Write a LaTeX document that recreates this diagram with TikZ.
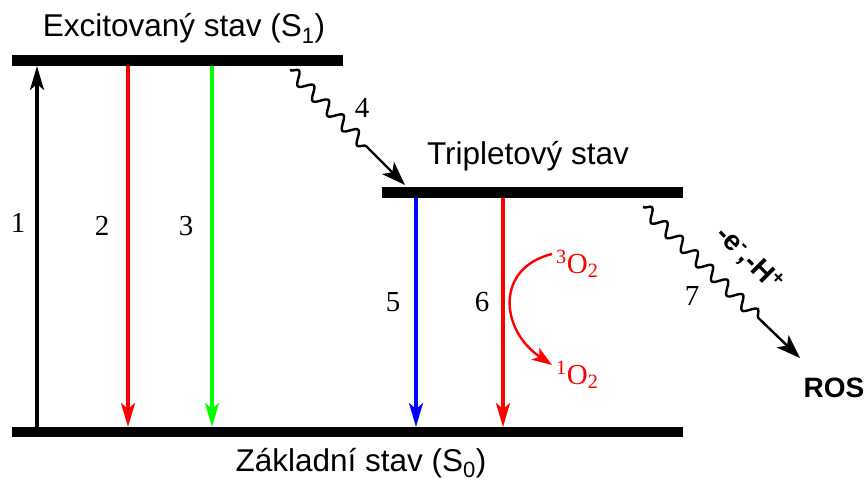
\documentclass[tikz,border=0pt]{standalone}
\usepackage{fontspec}
\setmainfont{Liberation Sans}
\newfontfamily\serifnum{Liberation Serif}
\usetikzlibrary{arrows.meta,decorations.pathmorphing}
\definecolor{myred}{RGB}{255,0,0}
\definecolor{mygreen}{RGB}{0,255,0}
\definecolor{myblue}{RGB}{0,0,255}
\begin{document}
\begin{tikzpicture}[x=1pt,y=-1pt,
  level/.style={fill=black},
  trans/.style={line width=3.2pt,-{Stealth[length=24pt,width=14pt,inset=6pt]}},
  wavy/.style={line width=2.4pt,decorate,decoration={snake,amplitude=6pt,segment length=21pt,post length=48pt},-{Stealth[length=24pt,width=17pt,inset=6pt]}},
  num/.style={font=\serifnum\fontsize{29}{32}\selectfont},
  lab/.style={font=\fontsize{31.5}{36}\selectfont},
]
\useasboundingbox (0,0) rectangle (867,481);
% levels
\fill[level] (12,55) rectangle (343,66);
\fill[level] (382,187) rectangle (683,198);
\fill[level] (12,427) rectangle (683,437);
% labels of levels
\node[lab,anchor=base] (s1) at (184,37) {Excitovaný stav (S\textsubscript{1})};
\node[lab,anchor=base] (t1) at (528,165) {Tripletový stav};
\node[lab,anchor=base] (s0) at (361,471) {Základní stav (S\textsubscript{0})};
% coordinates
\coordinate (a1) at (37,427); \coordinate (b1) at (37,66);
\coordinate (a2) at (128,66); \coordinate (b2) at (128,427);
\coordinate (a3) at (212,66); \coordinate (b3) at (212,427);
\coordinate (a5) at (416,198); \coordinate (b5) at (416,427);
\coordinate (a6) at (503,198); \coordinate (b6) at (503,427);
\coordinate (a4) at (290,70); \coordinate (b4) at (405,185);
\coordinate (a7) at (643,207); \coordinate (b7) at (800,358);
% transitions
\draw[trans,black] (a1) -- (b1);
\draw[trans,myred] (a2) -- (b2);
\draw[trans,mygreen] (a3) -- (b3);
\draw[trans,myblue] (a5) -- (b5);
\draw[trans,myred] (a6) -- (b6);
\draw[wavy] (a4) -- (b4);
\draw[wavy] (a7) -- (b7);
% numbers
\node[num,anchor=base] (n1) at (18,233) {1};
\node[num,anchor=base] (n2) at (102,235) {2};
\node[num,anchor=base] (n3) at (186,235) {3};
\node[num,anchor=base] (n4) at (362,118) {4};
\node[num,anchor=base] (n5) at (393,311) {5};
\node[num,anchor=base] (n6) at (482,311) {6};
\node[num,anchor=base] (n7) at (692,305) {7};
% oxygen
\node[num,text=myred,anchor=base west,inner sep=0pt] (o3) at (556,273) {\textsuperscript{3}O\textsubscript{2}};
\node[num,text=myred,anchor=base west,inner sep=0pt] (o1) at (556,384) {\textsuperscript{1}O\textsubscript{2}};
\coordinate (c3) at (552,254);
\coordinate (c1) at (552,365);
\draw[myred,line width=2.4pt,-{Stealth[length=20pt,width=14pt,inset=5pt]}] (c3) .. controls (495,268) and (500,330) .. (c1);
% ROS and electron label
\node[font=\bfseries\fontsize{28}{32}\selectfont,anchor=base] (ros) at (834,397) {ROS};
\node[font=\bfseries\fontsize{28}{32}\selectfont,rotate=-45,inner sep=0pt] (eh) at (749,259) {-e\textsuperscript{-},-H\textsuperscript{+}};
\end{tikzpicture}
\end{document}
